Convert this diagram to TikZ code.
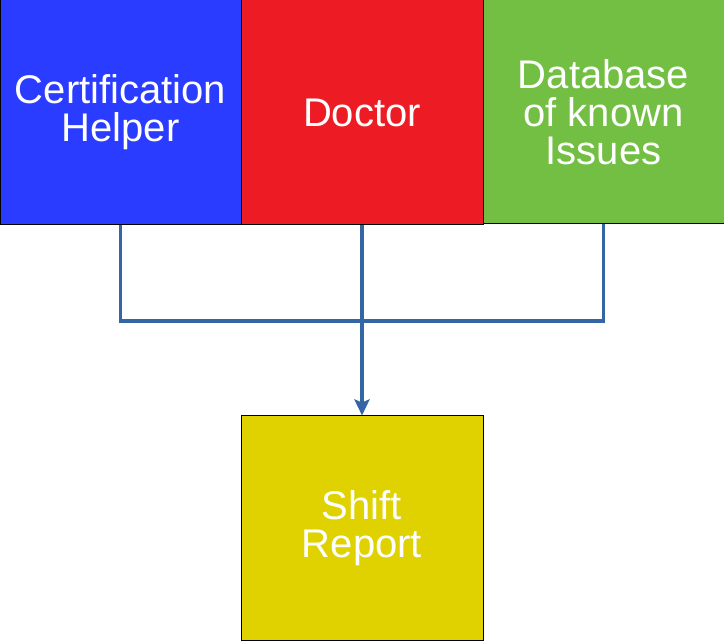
\documentclass[tikz,border=0pt]{standalone}
\usepackage{fontspec}
\setmainfont{Liberation Sans}
\usepackage{tikz}
\usetikzlibrary{arrows.meta,positioning}

\definecolor{certblue}{HTML}{2A3CFF}
\definecolor{docred}{HTML}{ED1C24}
\definecolor{dbgreen}{HTML}{72BF44}
\definecolor{repyellow}{HTML}{E0D200}
\definecolor{linkblue}{HTML}{3465A4}

\tikzset{
  block/.style={draw=black, line width=1pt, inner sep=0pt, align=center,
    text=white, font=\fontsize{40}{38}\selectfont,
    minimum width=241pt, minimum height=225pt},
  link/.style={linkblue, line width=3.5pt}
}

\begin{document}
\begin{tikzpicture}[x=1pt,y=1pt]
    \useasboundingbox (0,0) rectangle (724,641);

    % Sources: three boxes on top
    \node[block, fill=certblue] (cert) at (120.5,528.5) {Certification\\Helper};
    \node[block, fill=docred, minimum width=242pt] (doctor) at (362,528.5) {Doctor};
    \node[block, fill=dbgreen, minimum height=224pt] (known) at (603.5,529) {Database\\of known\\Issues};

    % Target: report
    \node[block, fill=repyellow, minimum width=242pt, minimum height=224pt] (report) at (362,113) {Shift\\Report};

    % Bus joining the sources
    \coordinate (bus) at (362,320);
    \draw[link] (cert.south) |- (bus) -| (known.south);

    % Arrow down to the report
    \draw[link, -{Stealth[width=15pt,length=16pt,inset=3pt]}] (doctor.south) -- (report.north);
\end{tikzpicture}
\end{document}
